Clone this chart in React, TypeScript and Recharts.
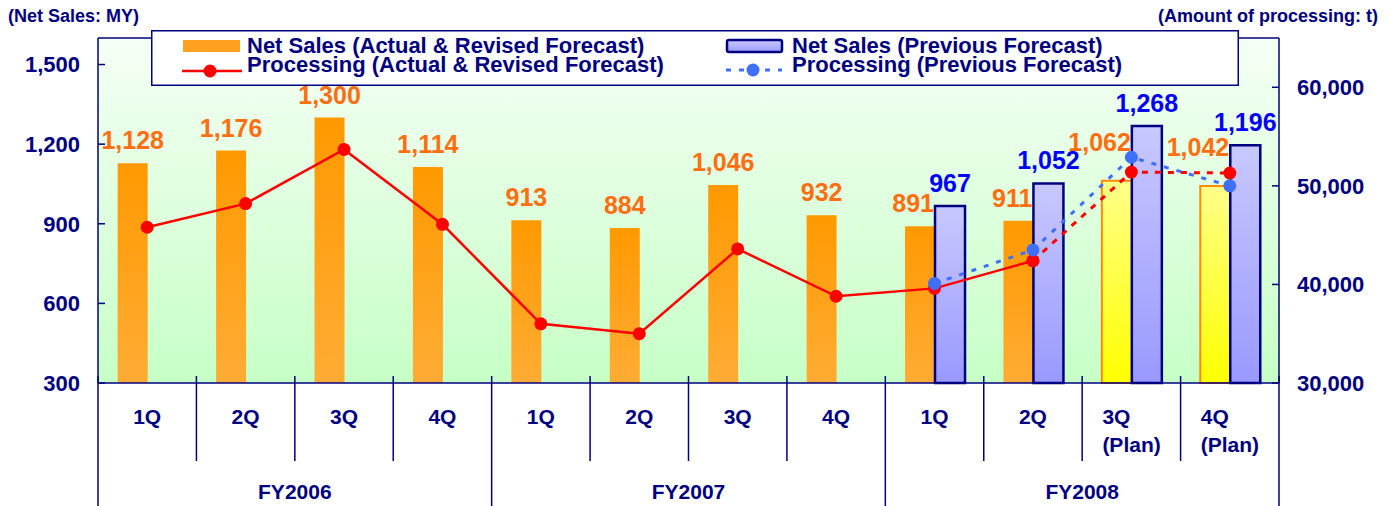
import React from 'react';
import {
  ComposedChart,
  Bar,
  Line,
  XAxis,
  YAxis,
  CartesianGrid,
  Legend,
  LabelList,
  Cell,
  ReferenceLine,
} from 'recharts';

// quarters along the x axis, grouped by fiscal year (4 per year)
const quarters = ['1Q', '2Q', '3Q', '4Q', '1Q', '2Q', '3Q', '4Q', '1Q', '2Q', '3Q\n(Plan)', '4Q\n(Plan)'];
const fiscalYears = ['FY2006', 'FY2007', 'FY2008'];

// net sales, MY
const netSales = [1128, 1176, 1300, 1114, 913, 884, 1046, 932, 891, 911, 1062, 1042];
const netSalesPrev = [null, null, null, null, null, null, null, null, 967, 1052, 1268, 1196];

// amount of processing, t
const processing = [45800, 48200, 53700, 46100, 36000, 35000, 43600, 38800, 39600, 42400, 51400, 51300];
const processingPrev = [null, null, null, null, null, null, null, null, 40100, 43500, 52900, 50000];
const lastActualIndex = 9; // FY2008 2Q is the last actual quarter

const salesTicks = [300, 600, 900, 1200, 1500];
const processingTicks = [30000, 40000, 50000, 60000];

const NAVY = '#000080';
const ORANGE_TEXT = '#FF6E10';
const BLUE_TEXT = '#0000FF';
const RED = '#FF0000';
const BLUE_LINE = '#3F6FFF';
const FONT = "'Liberation Sans', Arial, Helvetica, sans-serif";

const WIDTH = 1391;
const HEIGHT = 506;
const LEFT_AXIS_W = 98;
const RIGHT_AXIS_W = 112;
const BAND = (WIDTH - LEFT_AXIS_W - RIGHT_AXIS_W) / quarters.length;

const isPlan = quarters.map((q) => q.includes('(Plan)'));

const rows = quarters.map((quarter, i) => ({
  quarter,
  sales: netSales[i],
  salesPrev: netSalesPrev[i],
  procActual: i <= lastActualIndex ? processing[i] : null,
  procRevised: i >= lastActualIndex ? processing[i] : null,
  procPrev: processingPrev[i],
}));

const fmt = (v: number) => v.toLocaleString('en-US');

function SalesTick({ x, y, payload }: any) {
  return (
    <g>
      <line x1={x + 18} x2={x + 25} y1={y} y2={y} stroke={NAVY} strokeWidth={1.5} />
      <text x={x} y={y} dy="0.36em" textAnchor="end" fill={NAVY} fontSize={22} fontWeight="bold" fontFamily={FONT}>
        {fmt(payload.value)}
      </text>
    </g>
  );
}

function ProcessingTick({ x, y, payload }: any) {
  return (
    <g>
      <line x1={x - 18} x2={x - 25} y1={y} y2={y} stroke={NAVY} strokeWidth={1.5} />
      <text x={x} y={y} dy="0.36em" textAnchor="start" fill={NAVY} fontSize={22} fontWeight="bold" fontFamily={FONT}>
        {fmt(payload.value)}
      </text>
    </g>
  );
}

function QuarterTick({ x, y, payload, index }: any) {
  const i = payload.index ?? index;
  const lines = String(payload.value).split('\n');
  const left = x - BAND / 2;
  const groupStart = i % 4 === 0;
  const last = i === quarters.length - 1;
  const textProps = { fill: NAVY, fontSize: 21, fontWeight: 'bold', fontFamily: FONT };
  return (
    <g>
      <line x1={left} x2={left} y1={y - 7} y2={groupStart ? HEIGHT : y + 78} stroke={NAVY} strokeWidth={1.5} />
      {last && <line x1={x + BAND / 2} x2={x + BAND / 2} y1={y - 7} y2={HEIGHT} stroke={NAVY} strokeWidth={1.5} />}
      {lines.length === 1 ? (
        <text x={x} y={y + 41} textAnchor="middle" {...textProps}>{lines[0]}</text>
      ) : (
        lines.map((t, k) => (
          <text key={k} x={x - 29} y={y + 41 + k * 28} textAnchor="start" {...textProps}>{t}</text>
        ))
      )}
      {groupStart && (
        <text x={left + BAND * 2} y={y + 116} textAnchor="middle" {...textProps}>
          {fiscalYears[i / 4]}
        </text>
      )}
    </g>
  );
}

function SalesLabel(props: any) {
  const { x, y, width, value, index } = props;
  if (value == null) return null;
  const hasPrev = netSalesPrev[index] != null;
  const lift = isPlan[index] ? 30 : 14;
  return (
    <text
      x={hasPrev ? x + width - 1 : x + width / 2}
      y={y - lift}
      textAnchor={hasPrev ? 'end' : 'middle'}
      fill={ORANGE_TEXT}
      fontSize={25}
      fontWeight="bold"
      fontFamily={FONT}
    >
      {fmt(value)}
    </text>
  );
}

function PrevLabel(props: any) {
  const { x, y, width, value } = props;
  if (value == null) return null;
  return (
    <text x={x + width / 2} y={y - 14} textAnchor="middle" fill={BLUE_TEXT} fontSize={25} fontWeight="bold" fontFamily={FONT}>
      {fmt(value)}
    </text>
  );
}

function LegendBox() {
  const text = { fill: NAVY, fontSize: 22, fontWeight: 'bold', fontFamily: FONT } as const;
  return (
    <svg width={1088} height={56} style={{ display: 'block' }}>
      <defs>
        <linearGradient id="legendBlue" x1="0" y1="0" x2="0" y2="1">
          <stop offset="0%" stopColor="#C8C8FF" />
          <stop offset="100%" stopColor="#9C9CFF" />
        </linearGradient>
      </defs>
      <rect x={0.75} y={0.75} width={1086.5} height={54.5} fill="#FFFFFF" stroke={NAVY} strokeWidth={1.5} />
      <rect x={32} y={10} width={57} height={12} fill="#FFA020" />
      <text x={96} y={23} {...text}>Net Sales (Actual &amp; Revised Forecast)</text>
      <line x1={31} x2={91} y1={41} y2={41} stroke={RED} strokeWidth={2.5} />
      <circle cx={59} cy={41} r={6.5} fill={RED} />
      <text x={96} y={42} {...text}>Processing (Actual &amp; Revised Forecast)</text>
      <rect x={576} y={10} width={55} height={12} rx={2} fill="url(#legendBlue)" stroke={NAVY} strokeWidth={2.5} />
      <text x={641} y={23} {...text}>Net Sales (Previous Forecast)</text>
      <line x1={575} x2={631} y1={40} y2={40} stroke={BLUE_LINE} strokeWidth={3} strokeDasharray="5 8" />
      <circle cx={602} cy={40} r={6.5} fill={BLUE_LINE} />
      <text x={641} y={42} {...text}>Processing (Previous Forecast)</text>
    </svg>
  );
}

export default function App() {
  return (
    <div style={{ position: 'absolute', left: 0, top: 0, width: WIDTH, height: HEIGHT, background: '#FFFFFF' }}>
      <ComposedChart
        width={WIDTH}
        height={HEIGHT}
        data={rows}
        margin={{ top: 38, right: 0, bottom: 0, left: 0 }}
        barCategoryGap="20%"
        barGap={0}
      >
        <defs>
          <linearGradient id="bgGrad" x1="0" y1="0" x2="0" y2="1">
            <stop offset="0%" stopColor="#F5FFF5" />
            <stop offset="100%" stopColor="#C6FFC6" />
          </linearGradient>
          <linearGradient id="orangeGrad" x1="0" y1="0" x2="0" y2="1">
            <stop offset="0%" stopColor="#FF9900" />
            <stop offset="100%" stopColor="#FFAC35" />
          </linearGradient>
          <linearGradient id="yellowGrad" x1="0" y1="0" x2="0" y2="1">
            <stop offset="0%" stopColor="#FFFF88" />
            <stop offset="100%" stopColor="#FFFF00" />
          </linearGradient>
          <linearGradient id="blueGrad" x1="0" y1="0" x2="0" y2="1">
            <stop offset="0%" stopColor="#C8C8FF" />
            <stop offset="100%" stopColor="#9999FF" />
          </linearGradient>
        </defs>
        <CartesianGrid horizontal={false} vertical={false} fill="url(#bgGrad)" fillOpacity={1} stroke="none" />
        <XAxis
          dataKey="quarter"
          interval={0}
          height={123}
          tickSize={0}
          tickMargin={0}
          tickLine={false}
          axisLine={{ stroke: NAVY, strokeWidth: 1.5 }}
          tick={<QuarterTick />}
        />
        <YAxis
          yAxisId="left"
          domain={[300, 1600]}
          ticks={salesTicks}
          width={LEFT_AXIS_W}
          tickSize={0}
          tickMargin={18}
          tickLine={false}
          axisLine={{ stroke: NAVY, strokeWidth: 1.5 }}
          tick={<SalesTick />}
        />
        <YAxis
          yAxisId="right"
          orientation="right"
          domain={[30000, 65000]}
          ticks={processingTicks}
          width={RIGHT_AXIS_W}
          tickSize={0}
          tickMargin={18}
          tickLine={false}
          axisLine={{ stroke: NAVY, strokeWidth: 1.5 }}
          tick={<ProcessingTick />}
        />
        <ReferenceLine yAxisId="left" y={1600} stroke={NAVY} strokeWidth={1.5} />
        <Legend
          verticalAlign="middle"
          align="center"
          layout="horizontal"
          content={() => <LegendBox />}
          wrapperStyle={{ left: 151, top: 30, width: 1088, height: 56 }}
        />
        <Bar yAxisId="left" dataKey="sales" name="Net Sales (Actual & Revised Forecast)" isAnimationActive={false}>
          {rows.map((_, i) => (
            <Cell
              key={i}
              fill={isPlan[i] ? 'url(#yellowGrad)' : 'url(#orangeGrad)'}
              stroke={isPlan[i] ? '#FF8C00' : 'none'}
              strokeWidth={isPlan[i] ? 2 : 0}
            />
          ))}
          <LabelList dataKey="sales" content={<SalesLabel />} />
        </Bar>
        <Bar
          yAxisId="left"
          dataKey="salesPrev"
          name="Net Sales (Previous Forecast)"
          fill="url(#blueGrad)"
          stroke={NAVY}
          strokeWidth={2.5}
          isAnimationActive={false}
        >
          <LabelList dataKey="salesPrev" content={<PrevLabel />} />
        </Bar>
        <Line
          yAxisId="right"
          dataKey="procActual"
          name="Processing (Actual & Revised Forecast)"
          stroke={RED}
          strokeWidth={2.5}
          dot={{ r: 6.5, fill: RED, stroke: 'none' }}
          activeDot={false}
          isAnimationActive={false}
        />
        <Line
          yAxisId="right"
          dataKey="procRevised"
          stroke={RED}
          strokeWidth={3}
          strokeDasharray="6 7"
          dot={{ r: 6.5, fill: RED, stroke: 'none' }}
          activeDot={false}
          legendType="none"
          isAnimationActive={false}
        />
        <Line
          yAxisId="right"
          dataKey="procPrev"
          name="Processing (Previous Forecast)"
          stroke={BLUE_LINE}
          strokeWidth={3}
          strokeDasharray="5 8"
          dot={{ r: 6.5, fill: BLUE_LINE, stroke: 'none', strokeDasharray: '' }}
          activeDot={false}
          isAnimationActive={false}
        />
      </ComposedChart>
      <svg width={WIDTH} height={40} style={{ position: 'absolute', left: 0, top: 0, pointerEvents: 'none' }}>
        <text x={8} y={22} fill={NAVY} fontSize={18} fontWeight="bold" fontFamily={FONT}>
          (Net Sales: MY)
        </text>
        <text x={1378} y={22} textAnchor="end" fill={NAVY} fontSize={18} fontWeight="bold" fontFamily={FONT}>
          (Amount of processing: t)
        </text>
      </svg>
    </div>
  );
}
